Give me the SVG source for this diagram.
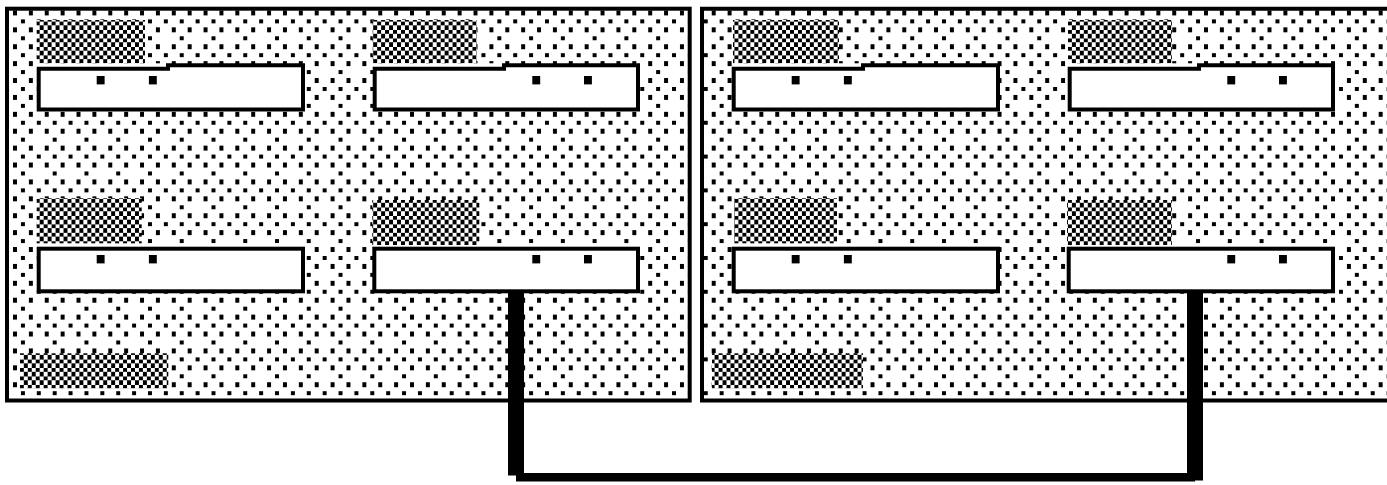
<svg xmlns="http://www.w3.org/2000/svg" width="1387" height="485" viewBox="0 0 1387 485">
<style>
.panel{fill:url(#dots);stroke:#000;stroke-width:4}
.box{fill:#fff;stroke:#000;stroke-width:4;stroke-linejoin:miter}
.strip{fill:#fff}
.sq{fill:#000}
.chk{fill:url(#checker)}
.conn{fill:#000}
</style>
<defs>
<pattern id="dots" patternUnits="userSpaceOnUse" x="18.96" y="17.4" width="31.76" height="33.8">
<g fill="#000" shape-rendering="crispEdges">
<rect x="2" y="1.9" width="4" height="4.2"/>
<rect x="17.88" y="1.9" width="4" height="4.2"/>
<rect x="9.94" y="10.35" width="4" height="4.2"/>
<rect x="25.82" y="10.35" width="4" height="4.2"/>
<rect x="2" y="18.8" width="4" height="4.2"/>
<rect x="9.94" y="27.25" width="4" height="4.2"/>
<rect x="25.82" y="27.25" width="4" height="4.2"/>
</g>
</pattern>
<pattern id="checker" patternUnits="userSpaceOnUse" x="0" y="0" width="7.94" height="8.45">
<g shape-rendering="crispEdges">
<rect width="7.94" height="8.45" fill="#fff"/>
<rect width="3.97" height="4.225" fill="#000"/>
<rect x="3.97" y="4.225" width="3.97" height="4.225" fill="#000"/>
</g>
</pattern>
</defs>
<rect width="1387" height="485" fill="#fff"/>

<g id="panel-left">
<rect class="panel" x="7" y="8.7" width="682.7" height="391.8"/>
<rect class="chk" x="20" y="353.3" width="148.3" height="35"/>
</g>
<g id="panel-right">
<path class="panel" d="M1400,8.7 H702 V400.5 H1400"/>
<rect class="chk" x="712" y="353.3" width="151" height="35"/>
</g>

<g id="left-top-left">
<rect class="chk" x="36.7" y="20" width="108.3" height="43.3"/>
<rect class="strip" x="37" y="63.3" width="131" height="3.5"/>
<path class="box" d="M38.7,68.8 H168 V65.3 H303 V109.5 H38.7 Z"/>
<rect class="sq" x="96.7" y="76" width="7.9" height="8.4"/>
<rect class="sq" x="148.9" y="76" width="7.9" height="8.4"/>
</g>
<g id="left-top-right">
<rect class="chk" x="372.7" y="20" width="104" height="43.3"/>
<rect class="strip" x="373" y="63.3" width="131" height="3.5"/>
<path class="box" d="M374.7,68.8 H504 V65.3 H638 V109.5 H374.7 Z"/>
<rect class="sq" x="532.3" y="76" width="7.9" height="8.4"/>
<rect class="sq" x="584" y="76" width="7.9" height="8.4"/>
</g>
<g id="left-bottom-left">
<rect class="chk" x="36.7" y="198.3" width="105" height="45"/>
<rect class="box" x="38.7" y="248.7" width="264.3" height="42.6"/>
<rect class="sq" x="96.7" y="255" width="7.9" height="8.4"/>
<rect class="sq" x="148.9" y="255" width="7.9" height="8.4"/>
</g>
<g id="left-bottom-right">
<rect class="chk" x="372.3" y="200" width="107" height="45"/>
<rect class="box" x="374.3" y="248.7" width="263.7" height="42.6"/>
<rect class="sq" x="532.3" y="255" width="7.9" height="8.4"/>
<rect class="sq" x="584" y="255" width="7.9" height="8.4"/>
</g>

<g id="right-top-left">
<rect class="chk" x="733" y="20" width="106" height="43.3"/>
<rect class="strip" x="732" y="63.3" width="131" height="3.5"/>
<path class="box" d="M733.7,68.8 H863 V65.3 H998 V109.5 H733.7 Z"/>
<rect class="sq" x="791.7" y="76" width="7.9" height="8.4"/>
<rect class="sq" x="843.9" y="76" width="7.9" height="8.4"/>
</g>
<g id="right-top-right">
<rect class="chk" x="1068" y="20" width="104" height="43.3"/>
<rect class="strip" x="1068" y="63.3" width="131" height="3.5"/>
<path class="box" d="M1069.7,68.8 H1199 V65.3 H1333 V109.5 H1069.7 Z"/>
<rect class="sq" x="1227.3" y="76" width="7.9" height="8.4"/>
<rect class="sq" x="1279" y="76" width="7.9" height="8.4"/>
</g>
<g id="right-bottom-left">
<rect class="chk" x="734" y="198.3" width="103" height="45"/>
<rect class="box" x="733.7" y="248.7" width="264.3" height="42.6"/>
<rect class="sq" x="791.7" y="255" width="7.9" height="8.4"/>
<rect class="sq" x="843.9" y="255" width="7.9" height="8.4"/>
</g>
<g id="right-bottom-right">
<rect class="chk" x="1067" y="200" width="105" height="45"/>
<rect class="box" x="1068.7" y="248.7" width="264.3" height="42.6"/>
<rect class="sq" x="1227.3" y="255" width="7.9" height="8.4"/>
<rect class="sq" x="1279" y="255" width="7.9" height="8.4"/>
</g>

<g id="connectors">
<path class="conn" d="M508,291 H524 V473 H1187 V291 H1203 V480.5 H1195 V481.5 H516 V475.5 H508 Z"/>
</g>
</svg>
